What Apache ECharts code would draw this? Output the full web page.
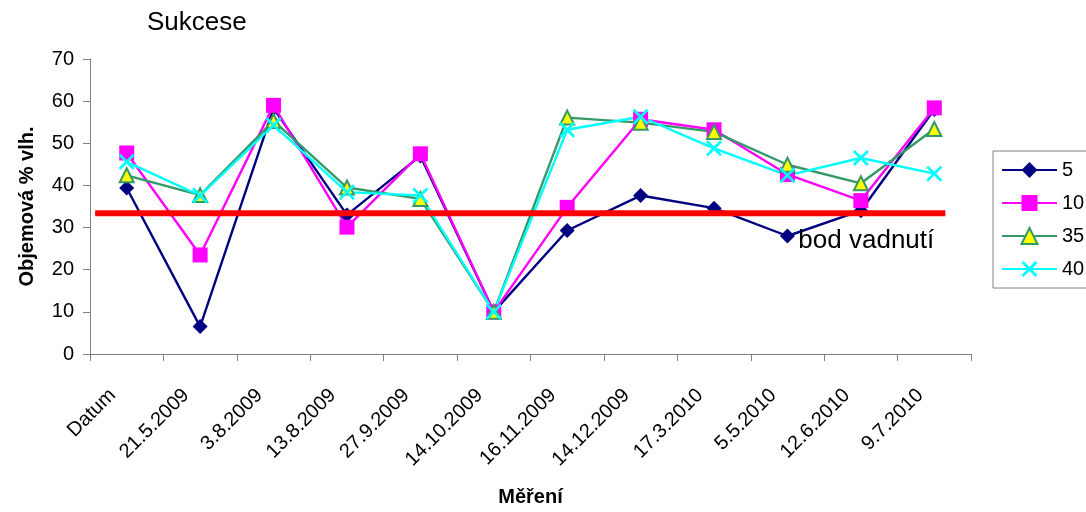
<!DOCTYPE html>
<html>
<head>
<meta charset="utf-8">
<script src="https://cdn.jsdelivr.net/npm/echarts@6/dist/echarts.min.js"></script>
<style>
  html, body { margin: 0; padding: 0; background: #fff; }
  #chart { width: 1086px; height: 512px; }
</style>
</head>
<body>
<div id="chart"></div>
<script>
const categories = ['Datum', '21.5.2009', '3.8.2009', '13.8.2009', '27.9.2009', '14.10.2009',
  '16.11.2009', '14.12.2009', '17.3.2010', '5.5.2010', '12.6.2010', '9.7.2010'];
const s5  = [39.4, 6.5, 58.3, 33.0, 47.0, 10.0, 29.3, 37.6, 34.6, 28.0, 34.0, 58.0];
const s10 = [47.7, 23.5, 59.0, 30.1, 47.5, 10.0, 34.8, 55.7, 53.2, 42.6, 36.4, 58.4];
const s35 = [42.4, 37.7, 55.3, 39.5, 36.8, 10.0, 56.1, 54.9, 52.7, 44.9, 40.5, 53.4];
const s40 = [45.6, 37.6, 54.3, 38.4, 37.6, 10.0, 53.2, 56.3, 48.8, 42.4, 46.5, 42.8];
const yTicks = [0, 10, 20, 30, 40, 50, 60, 70];
const wiltValue = 33.4;           // bod vadnutí
const wiltSpan = [-0.43, 11.15];  // extent of the drawn line along the categories

const FONT = 'Liberation Sans, Arial, sans-serif';
const xShape = 'path://M0,1.2L1.2,0L5,3.8L8.8,0L10,1.2L6.2,5L10,8.8L8.8,10L5,6.2L1.2,10L0,8.8L3.8,5Z';

const chart = echarts.init(document.getElementById('chart'), null, { renderer: 'canvas' });
chart.setOption({
  animation: false,
  backgroundColor: '#ffffff',
  textStyle: { fontFamily: FONT },
  title: {
    text: 'Sukcese', left: 147, top: 10, padding: 0,
    textStyle: { fontSize: 26, fontWeight: 'normal', color: '#000', fontFamily: FONT }
  },
  legend: {
    orient: 'vertical', left: 993, top: 151,
    padding: [9, 100, 9, 8],
    itemWidth: 55, itemHeight: 20, itemGap: 13,
    borderColor: '#808080', borderWidth: 1,
    data: ['5', '10', '35', '40'],
    textStyle: { fontSize: 20, color: '#000', fontFamily: FONT }
  },
  grid: { left: 90, right: 115, top: 59, bottom: 154, containLabel: false },
  xAxis: [{
    type: 'category', data: categories, boundaryGap: true,
    name: 'Měření', nameLocation: 'middle', nameGap: 133,
    nameTextStyle: { fontSize: 20, fontWeight: 'bold', color: '#000', fontFamily: FONT },
    axisLine: { onZero: false, lineStyle: { color: '#808080', width: 1 } },
    axisTick: { show: true, length: 7, alignWithLabel: false, lineStyle: { color: '#808080' } },
    axisLabel: {
      rotate: 45, interval: 0, margin: 24, padding: [0, 20, 0, 0],
      fontSize: 20, color: '#000', fontFamily: FONT
    },
    splitLine: { show: false }
  }, {
    type: 'value', min: -0.5, max: 11.5, show: false
  }],
  yAxis: {
    type: 'value', min: yTicks[0], max: yTicks[yTicks.length - 1], interval: 10,
    name: 'Objemová % vlh.', nameLocation: 'middle', nameGap: 53,
    nameTextStyle: { fontSize: 20, fontWeight: 'bold', color: '#000', fontFamily: FONT },
    axisLine: { show: true, onZero: false, lineStyle: { color: '#808080', width: 1 } },
    axisTick: { show: true, length: 7, lineStyle: { color: '#808080' } },
    axisLabel: { fontSize: 20, color: '#000', margin: 16, fontFamily: FONT },
    splitLine: { show: false }
  },
  series: [
    {
      name: '5', type: 'line', data: s5,
      symbol: 'diamond', symbolSize: 15,
      lineStyle: { color: '#000080', width: 2.4 },
      itemStyle: { color: '#000080' }
    },
    {
      name: '10', type: 'line', data: s10,
      symbol: 'rect', symbolSize: 15,
      lineStyle: { color: '#FF00FF', width: 2.4 },
      itemStyle: { color: '#FF00FF' }
    },
    {
      name: '35', type: 'line', data: s35,
      symbol: 'triangle', symbolSize: 14,
      lineStyle: { color: '#339966', width: 2.4 },
      itemStyle: { color: '#FFFF00', borderColor: '#339966', borderWidth: 2 }
    },
    {
      name: '40', type: 'line', data: s40,
      symbol: xShape, symbolSize: 16,
      lineStyle: { color: '#00FFFF', width: 2.4 },
      itemStyle: { color: '#00FFFF' }
    },
    {
      name: 'bod vadnutí', type: 'line', xAxisIndex: 1, z: 6, silent: true,
      symbol: 'none',
      lineStyle: { color: '#FF0000', width: 6 },
      data: [[wiltSpan[0], wiltValue], [wiltSpan[1], wiltValue]],
      markPoint: {
        silent: true,
        symbol: 'circle', symbolSize: 0.1,
        itemStyle: { color: 'rgba(0,0,0,0)' },
        label: {
          show: true, position: 'left', distance: 0, offset: [-11, 28],
          fontSize: 26, color: '#000', fontFamily: FONT,
          formatter: 'bod vadnutí'
        },
        data: [{ coord: [wiltSpan[1], wiltValue] }]
      }
    }
  ]
});
</script>
</body>
</html>
